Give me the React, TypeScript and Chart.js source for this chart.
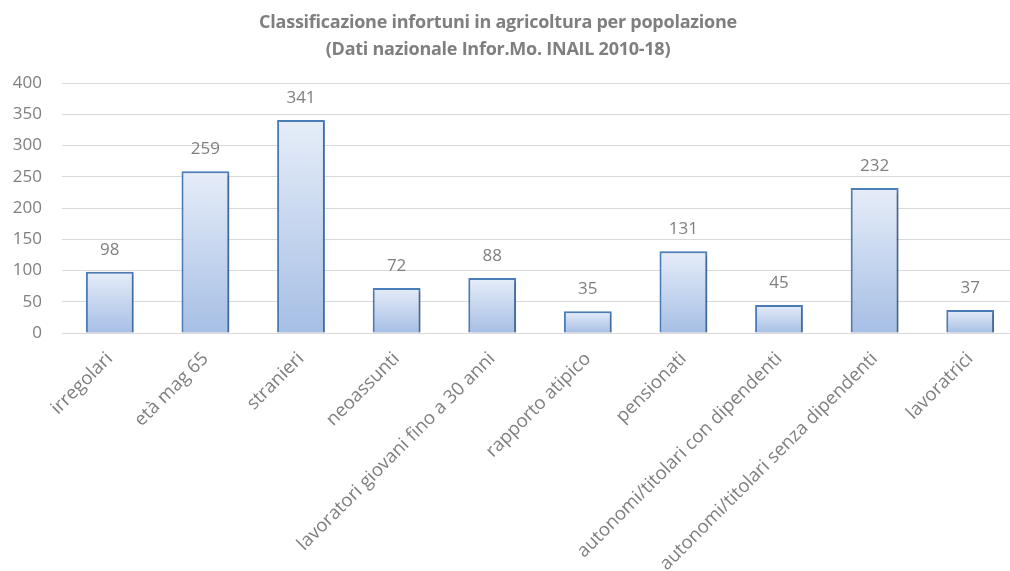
import React, { useEffect, useRef } from "react";
import { Chart, registerables } from "chart.js";

Chart.register(...registerables);

const titleLines = [
  "Classificazione infortuni in agricoltura per popolazione",
  "(Dati nazionale Infor.Mo. INAIL 2010-18)",
];
const categories = [
  "irregolari",
  "età mag 65",
  "stranieri",
  "neoassunti",
  "lavoratori giovani fino a 30 anni",
  "rapporto atipico",
  "pensionati",
  "autonomi/titolari con dipendenti",
  "autonomi/titolari senza dipendenti",
  "lavoratrici",
];
const values = [98, 259, 341, 72, 88, 35, 131, 45, 232, 37];
const yTicks = [0, 50, 100, 150, 200, 250, 300, 350, 400];

const FONT = "'Open Sans', 'DejaVu Sans', sans-serif";
const GRAY = "#7f7f7f";

const titlePlugin = {
  id: "customTitle",
  afterDraw(chart: any) {
    const ctx = chart.ctx;
    ctx.save();
    ctx.fillStyle = GRAY;
    ctx.font = `bold 18px ${FONT}`;
    (ctx as any).letterSpacing = "-0.25px";
    ctx.textAlign = "center";
    ctx.textBaseline = "middle";
    ctx.fillText(titleLines[0], 498, 23);
    ctx.fillText(titleLines[1], 498, 50);
    (ctx as any).letterSpacing = "0px";
    ctx.restore();
  },
};

const barStylePlugin = {
  id: "barStyle",
  beforeDatasetsDraw(chart: any) {
    const ctx = chart.ctx;
    ctx.save();
    ctx.shadowColor = "rgba(0,0,0,0.28)";
    ctx.shadowBlur = 3;
    ctx.shadowOffsetX = 1.5;
    ctx.shadowOffsetY = 1.5;
  },
  afterDatasetsDraw(chart: any) {
    const ctx = chart.ctx;
    ctx.restore();
    const meta = chart.getDatasetMeta(0);
    ctx.save();
    ctx.fillStyle = GRAY;
    ctx.font = `17px ${FONT}`;
    ctx.textAlign = "center";
    ctx.textBaseline = "middle";
    meta.data.forEach((bar: any, i: number) => {
      ctx.fillText(String(values[i]), bar.x, bar.y - 22);
    });
    ctx.restore();
  },
};

function barGradient(context: any) {
  const chart = context.chart;
  if (!chart.chartArea || !chart.scales.y) return "#c5d5ef";
  const y = chart.scales.y;
  const top = y.getPixelForValue(values[context.dataIndex]);
  const base = y.getPixelForValue(0);
  const g = chart.ctx.createLinearGradient(0, top, 0, base);
  g.addColorStop(0, "#e6edf8");
  g.addColorStop(1, "#a6bfe5");
  return g;
}

export default function App() {
  const ref = useRef<HTMLCanvasElement>(null);
  useEffect(() => {
    if (!ref.current) return;
    const chart = new Chart(ref.current, {
      type: "bar",
      data: {
        labels: categories,
        datasets: [
          {
            data: values,
            backgroundColor: barGradient,
            borderColor: "#4a7ebb",
            borderWidth: 2,
            barPercentage: 0.5,
            categoryPercentage: 1,
          },
        ],
      },
      options: {
        responsive: false,
        animation: false,
        events: [],
        layout: { padding: { top: 83, left: 0, right: 0, bottom: 0 } },
        plugins: {
          legend: { display: false },
          title: { display: false },
          tooltip: { enabled: false },
        },
        scales: {
          x: {
            grid: { display: false, drawTicks: false },
            border: { color: "#d9d9d9", width: 1 },
            ticks: {
              color: GRAY,
              font: { family: FONT, size: 18.5 },
              minRotation: 45,
              maxRotation: 45,
              padding: 15,
              autoSkip: false,
            },
            afterFit(scale: any) {
              scale.height = 238;
            },
          },
          y: {
            min: 0,
            max: 400,
            afterBuildTicks(scale: any) {
              scale.ticks = yTicks.map((v) => ({ value: v }));
            },
            grid: { color: "#d9d9d9", drawTicks: false },
            border: { display: false },
            ticks: {
              color: GRAY,
              font: { family: FONT, size: 17 },
              padding: 20,
            },
            afterFit(scale: any) {
              scale.width = 62;
            },
          },
        },
      },
      plugins: [titlePlugin, barStylePlugin],
    });
    return () => chart.destroy();
  }, []);
  return (
    <div
      style={{
        position: "fixed",
        left: 0,
        top: 0,
        width: 1010,
        height: 571,
        overflow: "hidden",
        background: "#fff",
      }}
    >
      <canvas ref={ref} width={1018} height={571} style={{ display: "block" }} />
    </div>
  );
}
